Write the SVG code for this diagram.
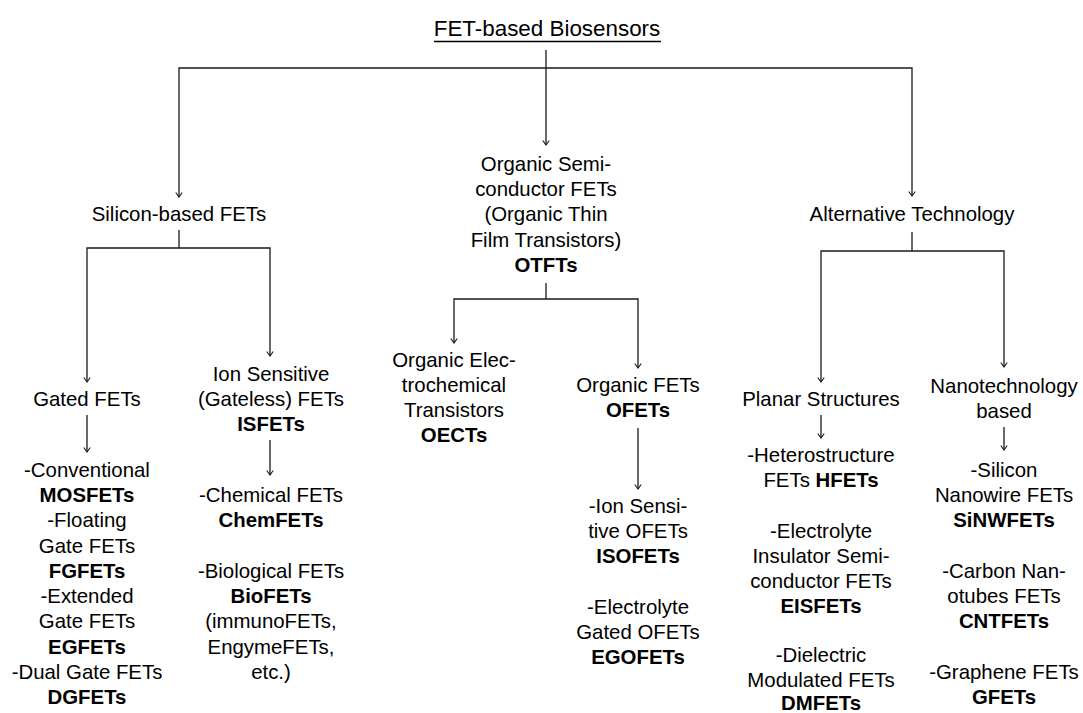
<svg xmlns="http://www.w3.org/2000/svg" width="1083" height="713" viewBox="0 0 1083 713">
<style>
text{font-family:"Liberation Sans",Arial,sans-serif;font-size:20.4px;fill:#000;text-anchor:middle}
.b{font-weight:bold}
.title{font-size:22.4px}
.c path,.c line{fill:none;stroke:#1a1a1a;stroke-width:1.3}
</style>
<defs>
<marker id="ah" markerUnits="userSpaceOnUse" markerWidth="10" markerHeight="10" viewBox="-6 -5 8 10" refX="0" refY="0" orient="auto">
<path d="M-4.5,-3.2 L0,0 L-4.5,3.2" fill="none" stroke="#1a1a1a" stroke-width="1.1"/>
</marker>
</defs>
<rect width="1083" height="713" fill="#fff"/>
<g class="c" id="connectors">
<path d="M546,50 V145" marker-end="url(#ah)"/>
<path d="M546,68 H179 V197" marker-end="url(#ah)"/>
<path d="M546,68 H912 V196" marker-end="url(#ah)"/>
<path d="M179,230 V248"/>
<path d="M179,248 H87 V382" marker-end="url(#ah)"/>
<path d="M179,248 H270 V356" marker-end="url(#ah)"/>
<path d="M87,415 V452" marker-end="url(#ah)"/>
<path d="M270,440 V475" marker-end="url(#ah)"/>
<path d="M546,283 V299"/>
<path d="M546,299 H454 V343" marker-end="url(#ah)"/>
<path d="M546,299 H638 V368" marker-end="url(#ah)"/>
<path d="M638,428 V489" marker-end="url(#ah)"/>
<path d="M912,232 V251"/>
<path d="M912,251 H821 V382" marker-end="url(#ah)"/>
<path d="M912,251 H1004 V367" marker-end="url(#ah)"/>
<path d="M821,415 V438" marker-end="url(#ah)"/>
<path d="M1004,427 V450" marker-end="url(#ah)"/>
</g>
<g id="title">
<text class="title" x="547" y="36">FET-based Biosensors</text>
<line x1="434" y1="41.5" x2="661" y2="41.5" stroke="#000" stroke-width="1.3"/>
</g>
<g id="silicon">
<text x="179" y="221">Silicon-based FETs</text>
</g>
<g id="organic">
<text x="546" y="171">Organic Semi-</text>
<text x="546" y="196">conductor FETs</text>
<text x="546" y="221">(Organic Thin</text>
<text x="546" y="247">Film Transistors)</text>
<text class="b" x="546" y="272">OTFTs</text>
</g>
<g id="alternative">
<text x="912" y="221">Alternative Technology</text>
</g>
<g id="gated">
<text x="87" y="406">Gated FETs</text>
</g>
<g id="gated-list">
<text x="87" y="477">-Conventional</text>
<text class="b" x="87" y="502">MOSFETs</text>
<text x="87" y="527">-Floating</text>
<text x="87" y="553">Gate FETs</text>
<text class="b" x="87" y="578">FGFETs</text>
<text x="87" y="603">-Extended</text>
<text x="87" y="628">Gate FETs</text>
<text class="b" x="87" y="654">EGFETs</text>
<text x="87" y="679">-Dual Gate FETs</text>
<text class="b" x="87" y="704">DGFETs</text>
</g>
<g id="isfet">
<text x="271" y="381">Ion Sensitive</text>
<text x="271" y="406">(Gateless) FETs</text>
<text class="b" x="271" y="431">ISFETs</text>
</g>
<g id="isfet-list">
<text x="271" y="502">-Chemical FETs</text>
<text class="b" x="271" y="527">ChemFETs</text>
<text x="271" y="578">-Biological FETs</text>
<text class="b" x="271" y="603">BioFETs</text>
<text x="271" y="628">(immunoFETs,</text>
<text x="271" y="654">EngymeFETs,</text>
<text x="271" y="679">etc.)</text>
</g>
<g id="oect">
<text x="454" y="367">Organic Elec-</text>
<text x="454" y="392">trochemical</text>
<text x="454" y="417">Transistors</text>
<text class="b" x="454" y="442">OECTs</text>
</g>
<g id="ofet">
<text x="638" y="392">Organic FETs</text>
<text class="b" x="638" y="417">OFETs</text>
</g>
<g id="ofet-list">
<text x="638" y="513">-Ion Sensi-</text>
<text x="638" y="538">tive OFETs</text>
<text class="b" x="638" y="563">ISOFETs</text>
<text x="638" y="614">-Electrolyte</text>
<text x="638" y="639">Gated OFETs</text>
<text class="b" x="638" y="664">EGOFETs</text>
</g>
<g id="planar">
<text x="821" y="406">Planar Structures</text>
</g>
<g id="planar-list">
<text x="821" y="462">-Heterostructure</text>
<text x="821" y="487">FETs <tspan class="b">HFETs</tspan></text>
<text x="821" y="538">-Electrolyte</text>
<text x="821" y="563">Insulator Semi-</text>
<text x="821" y="588">conductor FETs</text>
<text class="b" x="821" y="613">EISFETs</text>
<text x="821" y="662">-Dielectric</text>
<text x="821" y="687">Modulated FETs</text>
<text class="b" x="821" y="710">DMFETs</text>
</g>
<g id="nano">
<text x="1004" y="393">Nanotechnology</text>
<text x="1004" y="418">based</text>
</g>
<g id="nano-list">
<text x="1004" y="477">-Silicon</text>
<text x="1004" y="502">Nanowire FETs</text>
<text class="b" x="1004" y="527">SiNWFETs</text>
<text x="1004" y="578">-Carbon Nan-</text>
<text x="1004" y="603">otubes FETs</text>
<text class="b" x="1004" y="628">CNTFETs</text>
<text x="1004" y="679">-Graphene FETs</text>
<text class="b" x="1004" y="704">GFETs</text>
</g>
</svg>
